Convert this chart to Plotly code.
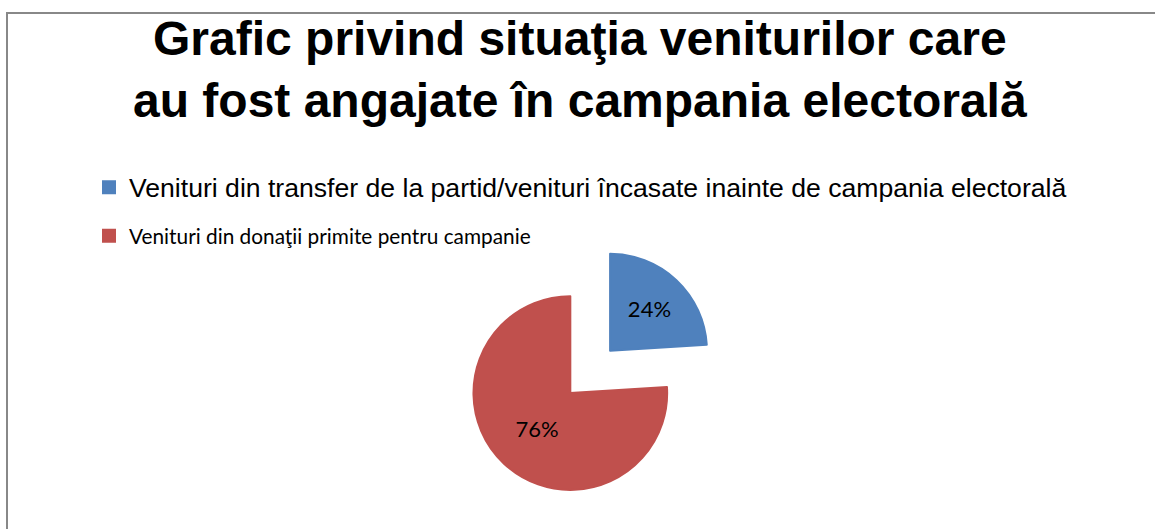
import plotly.graph_objects as go

# data
labels = [
    "Venituri din transfer de la partid/venituri încasate inainte de campania electorală",
    "Venituri din donaţii primite pentru campanie",
]
values = [24, 76]
colors = ["#4F81BD", "#C0504D"]
label_fonts = ["Liberation Sans", "Lato"]
label_sizes = [26.6, 20.8]

title_text = "Grafic privind situaţia veniturilor care<br>au fost angajate în campania electorală"

# legend labels: smaller text inside a tall legend row, to get the wide row spacing
legend_labels = [
    f'<span style="font-family:{f};font-size:{s}px;baseline-shift:{(35 - s) * 0.3 + 1:.0f}px">{t}</span>'
    for t, f, s in zip(labels, label_fonts, label_sizes)
]

fig = go.Figure(
    go.Pie(
        labels=legend_labels,
        values=values,
        sort=False,
        direction="clockwise",
        rotation=0,
        pull=[0.3, 0.3],
        marker=dict(colors=colors, line=dict(width=2, color=colors)),
        textinfo="percent",
        texttemplate="%{percent:.0%}",
        textposition="inside",
        insidetextorientation="horizontal",
        textfont=dict(family="Lato", size=22, color="black"),
        hoverinfo="skip",
        domain=dict(x=[0.402, 0.620], y=[0.059, 0.535]),
    )
)

fig.update_layout(
    width=1155,
    height=529,
    margin=dict(l=0, r=0, t=0, b=0),
    paper_bgcolor="white",
    plot_bgcolor="white",
    title=dict(
        text=title_text,
        x=0.502,
        xanchor="center",
        y=1 - 55 / 529,
        yanchor="middle",
        yref="container",
        font=dict(family="Liberation Sans", size=48, color="black", weight="bold"),
    ),
    legend=dict(
        x=89 / 1155,
        xanchor="left",
        y=1 - 158 / 529,
        yanchor="top",
        font=dict(family="Liberation Sans", size=35, color="black"),
        bgcolor="rgba(0,0,0,0)",
    ),
    showlegend=True,
    shapes=[
        dict(
            type="rect",
            xref="paper",
            yref="paper",
            x0=7 / 1155,
            x1=1.01,
            y0=-0.05,
            y1=1 - 13 / 529,
            line=dict(color="#888888", width=2),
            layer="below",
        )
    ],
)

fig.write_html(
    "out.html",
    config={"displayModeBar": False},
    post_script="document.body.style.margin='0px';",
)
